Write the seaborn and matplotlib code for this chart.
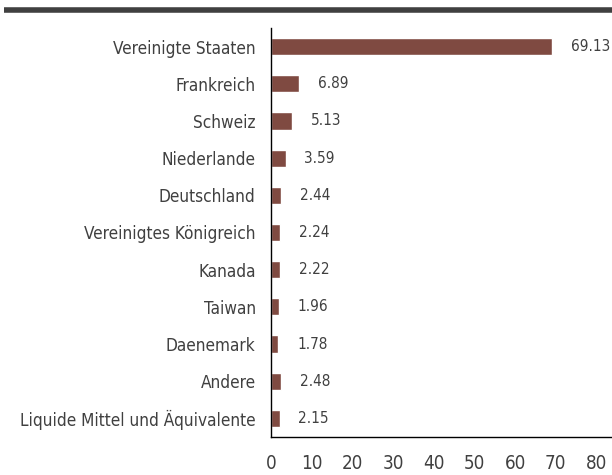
import matplotlib
matplotlib.use("Agg")
import matplotlib.pyplot as plt
import seaborn as sns
import pandas as pd
from matplotlib import font_manager

countries = ["Vereinigte Staaten", "Frankreich", "Schweiz", "Niederlande", "Deutschland",
             "Vereinigtes Königreich", "Kanada", "Taiwan", "Daenemark", "Andere",
             "Liquide Mittel und Äquivalente"]
weights = [69.13, 6.89, 5.13, 3.59, 2.44, 2.24, 2.22, 1.96, 1.78, 2.48, 2.15]
xticks = [0, 10, 20, 30, 40, 50, 60, 70, 80]

df = pd.DataFrame({"land": countries, "anteil": weights})

sns.set_style("white")
# condensed face if the system has one
cond = [f for f in font_manager.fontManager.ttflist
        if "ondensed" in f.fname or "arrow" in f.fname]
plt.rcParams["font.family"] = ["DejaVu Sans"]
if cond:
    plt.rcParams["font.family"] = [cond[0].name, "DejaVu Sans"]
    plt.rcParams["font.stretch"] = cond[0].stretch

txt = "#404040"
fig = plt.figure(figsize=(6.12, 4.75), dpi=100)
ax = fig.add_axes([271 / 612, 38 / 475, 341 / 612, 409 / 475])

sns.barplot(data=df, x="anteil", y="land", color="#7f4a41", width=0.46,
            saturation=1, ax=ax, orient="h")

for i, v in enumerate(weights):
    ax.text(v + 4.6, i, f"{v:.2f}", va="center", ha="left", fontsize=11, color=txt)

ax.set_xlim(0, 83.8)
ax.set_ylim(len(countries) - 0.5, -0.5)
ax.set_xticks(xticks)
ax.set_xlabel("")
ax.set_ylabel("")
ax.tick_params(axis="x", length=0, pad=12, labelsize=13.5, labelcolor=txt)
ax.tick_params(axis="y", length=0, pad=11, labelsize=12.3, labelcolor=txt)
for s in ["top", "right"]:
    ax.spines[s].set_visible(False)
for s in ["left", "bottom"]:
    ax.spines[s].set_color("black")
    ax.spines[s].set_linewidth(1.0)

fig.add_artist(plt.Line2D([4 / 612, 1.0], [465 / 475, 465 / 475],
                          color="#404040", linewidth=4, solid_capstyle="butt",
                          transform=fig.transFigure))

fig.savefig("out.png", dpi=100)
